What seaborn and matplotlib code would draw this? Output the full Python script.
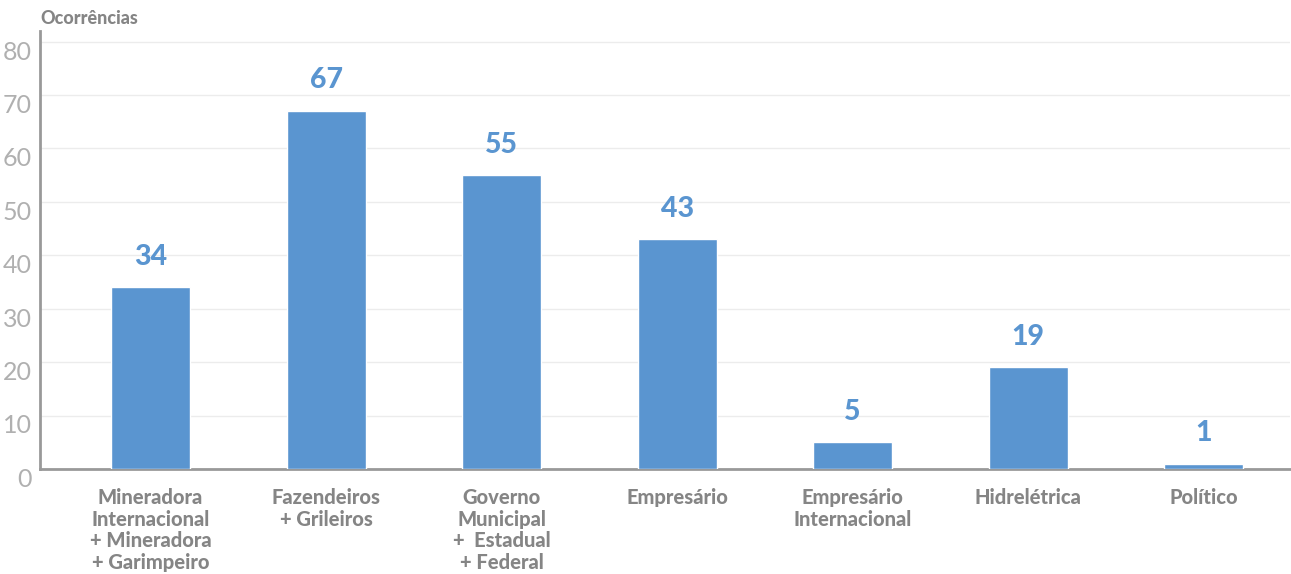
import matplotlib
matplotlib.use("Agg")
import matplotlib.pyplot as plt
import matplotlib.transforms as mtransforms
import seaborn as sns
import pandas as pd

categorias = [
    "Mineradora\nInternacional\n+ Mineradora\n+ Garimpeiro",
    "Fazendeiros\n+ Grileiros",
    "Governo\nMunicipal\n+  Estadual\n+ Federal",
    "Empresário",
    "Empresário\nInternacional",
    "Hidrelétrica",
    "Político",
]
ocorrencias = [34, 67, 55, 43, 5, 19, 1]
yticks = [0, 10, 20, 30, 40, 50, 60, 70, 80]

BLUE = "#5A95D0"
GREY = "#858585"

sns.set_theme(style="white")
plt.rcParams["font.family"] = ["Lato", "DejaVu Sans"]

df = pd.DataFrame({"categoria": categorias, "ocorrencias": ocorrencias})

fig = plt.figure(figsize=(12.91, 5.74), dpi=100)
ax = fig.add_axes([0.031, 0.183, 0.968, 0.763])

sns.barplot(data=df, x="categoria", y="ocorrencias", color=BLUE,
            width=0.45, saturation=1, ax=ax, zorder=3)

for i, v in enumerate(ocorrencias):
    ax.text(i, v + 3.3, str(v), ha="center", va="bottom", fontsize=20.5,
            fontweight="black", color=BLUE)

ax.set_ylim(0, 82)
ax.set_xlim(-0.63, 6.49)
ax.yaxis.grid(True, color="#ececec", linewidth=1, zorder=0)
ax.set_xlabel("")
ax.set_ylabel("")

for s in ["top", "right"]:
    ax.spines[s].set_visible(False)
for s in ["left", "bottom"]:
    ax.spines[s].set_color("#999999")
    ax.spines[s].set_linewidth(2)

ax.tick_params(axis="y", length=0, pad=6)
ax.tick_params(axis="x", length=0, pad=14)
ax.set_yticks(yticks)
ax.set_yticklabels([str(t) for t in yticks], fontsize=18, color="#b0b0b0",
                   fontweight="normal")
ax.set_xticks(range(len(categorias)))
ax.set_xticklabels(categorias, fontsize=14.5, color=GREY, fontweight="black",
                   linespacing=1.15, va="top")
offset = mtransforms.ScaledTranslation(0, -6 / 72, fig.dpi_scale_trans)
for lbl in ax.get_yticklabels():
    lbl.set_transform(lbl.get_transform() + offset)

fig.text(40 / 1291, 1 - 18 / 574, "Ocorrências", ha="left", va="center",
         fontsize=13, fontweight="black", color=GREY)

fig.savefig("out.png", dpi=100)
